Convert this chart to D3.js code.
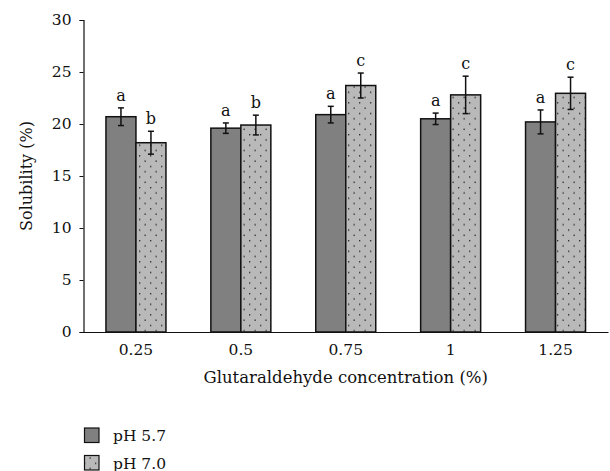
<!DOCTYPE html>
<html>
<head>
<meta charset="utf-8">
<script src="https://cdn.jsdelivr.net/npm/d3@7"></script>
<style>
  body { margin: 0; background: #fff; }
  text { font-family: "DejaVu Serif", "Liberation Serif", serif; fill: #111; }
</style>
</head>
<body>
<script>
// solubility vs glutaraldehyde concentration
var categories = ["0.25", "0.5", "0.75", "1", "1.25"];
var seriesNames = ["pH 5.7", "pH 7.0"];
var ph57 = [20.7, 19.6, 20.9, 20.5, 20.2];
var ph57Err = [0.85, 0.5, 0.8, 0.55, 1.15];
var ph70 = [18.2, 19.9, 23.7, 22.8, 22.95];
var ph70Err = [1.1, 0.95, 1.2, 1.8, 1.55];
var ph57Letters = ["a", "a", "a", "a", "a"];
var ph70Letters = ["b", "b", "c", "c", "c"];
var yTicks = [0, 5, 10, 15, 20, 25, 30];

var width = 610, height = 471;
var margin = { left: 83.5, right: 2, top: 20, bottom: 139 };

var svg = d3.select("body").append("svg")
            .attr("width", width)
            .attr("height", height);

var defs = svg.append("defs");
var pat = defs.append("pattern")
              .attr("id", "dots")
              .attr("patternUnits", "userSpaceOnUse")
              .attr("width", 11)
              .attr("height", 10.6);
pat.append("rect").attr("width", 11).attr("height", 10.6).attr("fill", "#b9b9b9");
pat.append("rect").attr("x", 1.5).attr("y", 1.5).attr("width", 1.3).attr("height", 1.3).attr("fill", "#222");
pat.append("rect").attr("x", 7).attr("y", 6.8).attr("width", 1.3).attr("height", 1.3).attr("fill", "#222");

var x = d3.scaleBand()
          .domain(categories)
          .range([margin.left, width - margin.right]);

var y = d3.scaleLinear()
          .domain([0, 30])
          .range([height - margin.bottom, margin.top]);

var barW = 30;

var series = [
  { name: seriesNames[0], values: ph57, errs: ph57Err, letters: ph57Letters, fill: "#808080", off: -barW },
  { name: seriesNames[1], values: ph70, errs: ph70Err, letters: ph70Letters, fill: "url(#dots)", off: 0 }
];

// bars
series.forEach(function(s) {
  var g = svg.append("g");
  categories.forEach(function(c, i) {
    var cx = x(c) + x.bandwidth() / 2 + s.off;
    g.append("rect")
     .attr("x", cx)
     .attr("y", y(s.values[i]))
     .attr("width", barW)
     .attr("height", y(0) - y(s.values[i]))
     .attr("fill", s.fill)
     .attr("stroke", "#111")
     .attr("stroke-width", 1.5);

    var mx = cx + barW / 2;
    var top = y(s.values[i] + s.errs[i]);
    var bot = y(s.values[i] - s.errs[i]);
    g.append("line").attr("x1", mx).attr("x2", mx).attr("y1", top).attr("y2", bot)
     .attr("stroke", "#111").attr("stroke-width", 1.5);
    [top, bot].forEach(function(yy) {
      g.append("line").attr("x1", mx - 3).attr("x2", mx + 3).attr("y1", yy).attr("y2", yy)
       .attr("stroke", "#111").attr("stroke-width", 1.5);
    });
    g.append("text")
     .attr("x", mx)
     .attr("y", top - 7)
     .attr("text-anchor", "middle")
     .style("font-size", "16px")
     .text(s.letters[i]);
  });
});

// y axis
var yAxis = svg.append("g")
               .attr("transform", "translate(" + margin.left + ",0)")
               .call(d3.axisLeft(y).tickValues(yTicks).tickSize(4).tickPadding(8));
yAxis.select(".domain").attr("stroke", "#111").attr("stroke-width", 1.2);
yAxis.selectAll(".tick line").attr("stroke", "#111");
yAxis.selectAll("text").style("font-size", "15.5px");

// x axis
var xAxis = svg.append("g")
               .attr("transform", "translate(0," + y(0) + ")")
               .call(d3.axisBottom(x).tickSize(0).tickPadding(12));
xAxis.select(".domain").attr("stroke", "#111").attr("stroke-width", 1.2);
xAxis.selectAll("text").style("font-size", "15.5px");

svg.append("text")
   .attr("x", (margin.left + width - margin.right) / 2)
   .attr("y", 383)
   .attr("text-anchor", "middle")
   .style("font-size", "16.5px")
   .text("Glutaraldehyde concentration (%)");

svg.append("text")
   .attr("transform", "translate(32," + (y(0) + y(30)) / 2 + ") rotate(-90)")
   .attr("text-anchor", "middle")
   .style("font-size", "16px")
   .text("Solubility (%)");

// legend
var legend = svg.append("g");
series.forEach(function(s, i) {
  var ly = 428 + i * 27.5;
  legend.append("rect")
        .attr("x", 84.5).attr("y", ly)
        .attr("width", 14.5).attr("height", 14.5)
        .attr("fill", s.fill)
        .attr("stroke", "#111").attr("stroke-width", 1.2);
  legend.append("text")
        .attr("x", 113).attr("y", ly + 13)
        .style("font-size", "15.5px")
        .text(s.name);
});
</script>
</body>
</html>
